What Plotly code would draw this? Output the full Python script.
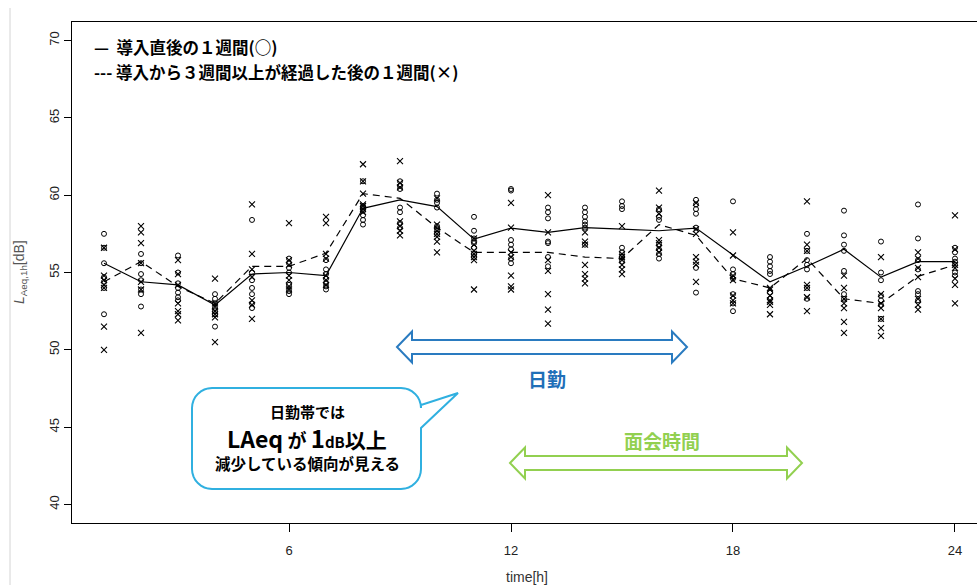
import math
import plotly.graph_objects as go

# ---------------- data ----------------
hours = list(range(1, 25))

# hourly LAeq of each day, first week after introduction (circles)
circle_vals = [
    [57.5, 56.6, 55.6, 54.7, 54.4, 54.0, 52.3],
    [56.2, 55.6, 54.9, 54.5, 53.9, 53.6, 52.8],
    [56.1, 55.0, 54.3, 54.0, 53.7, 53.4, 53.2],
    [53.6, 53.3, 53.0, 52.7, 52.5, 52.3, 51.5],
    [58.4, 55.0, 54.5, 54.0, 53.6, 53.0, 52.7],
    [55.9, 55.6, 55.3, 55.0, 54.2, 53.8, 53.6],
    [55.8, 55.2, 54.9, 54.6, 54.3, 54.1, 53.9],
    [60.9, 59.3, 59.0, 58.7, 58.4, 58.1, 59.2],
    [60.9, 60.6, 60.4, 59.2, 58.9, 58.2, 57.9],
    [60.1, 59.7, 59.5, 59.2, 58.0, 57.5, 57.8],
    [58.6, 57.7, 57.2, 56.9, 56.6, 56.2, 56.0],
    [60.4, 60.3, 57.1, 56.8, 56.5, 55.9, 55.6],
    [59.2, 58.9, 58.5, 57.0, 56.9, 56.0, 55.4],
    [59.2, 58.9, 58.6, 58.3, 58.1, 57.9, 56.8],
    [59.6, 59.3, 59.1, 56.6, 56.3, 56.0, 55.7],
    [59.1, 58.6, 58.4, 56.8, 56.5, 56.2, 55.9],
    [59.7, 59.4, 59.1, 58.8, 57.9, 55.3, 53.7],
    [59.6, 55.2, 54.9, 54.6, 53.6, 53.0, 52.5],
    [56.0, 55.7, 55.4, 55.1, 54.9, 53.7, 53.3],
    [57.5, 56.4, 55.8, 55.5, 55.2, 54.0, 53.3],
    [59.0, 57.4, 56.8, 56.4, 55.1, 53.6, 53.3],
    [57.0, 55.0, 54.5, 53.5, 53.2, 52.9, 52.0],
    [59.4, 57.2, 55.8, 55.2, 53.8, 53.6, 53.2],
    [56.6, 56.3, 55.9, 55.7, 55.5, 55.0, 54.8],
]

# hourly LAeq of each day, one week after 3+ weeks (crosses)
cross_vals = [
    [56.6, 54.8, 54.5, 54.2, 54.0, 51.5, 50.0],
    [58.0, 57.6, 56.9, 55.6, 54.4, 53.9, 51.1],
    [55.8, 54.9, 54.2, 53.0, 52.5, 52.3, 51.9],
    [54.6, 53.0, 52.8, 52.5, 52.3, 52.1, 50.5],
    [59.4, 56.2, 55.2, 54.7, 53.2, 52.9, 52.0],
    [58.2, 55.8, 55.5, 54.8, 54.5, 54.1, 53.9],
    [58.6, 58.2, 56.2, 55.9, 54.8, 54.5, 54.2],
    [62.0, 60.9, 60.1, 59.4, 59.3, 59.1, 58.9],
    [62.2, 60.8, 60.5, 58.3, 58.0, 57.7, 57.4],
    [59.8, 58.1, 57.7, 57.5, 57.3, 57.0, 56.3],
    [57.2, 56.8, 56.4, 56.2, 56.0, 55.8, 53.9],
    [59.5, 57.9, 56.3, 56.0, 54.8, 54.1, 53.9],
    [60.0, 57.6, 55.8, 55.1, 53.6, 52.6, 51.7],
    [57.6, 57.0, 56.8, 55.5, 54.9, 54.6, 54.3],
    [58.0, 56.2, 56.0, 55.8, 55.5, 55.2, 54.9],
    [60.3, 59.2, 58.8, 57.1, 56.9, 56.6, 56.3],
    [59.5, 57.8, 57.5, 56.0, 55.7, 55.5, 54.4],
    [57.6, 56.1, 54.8, 54.5, 53.5, 53.2, 53.0],
    [54.0, 53.9, 53.5, 53.2, 53.1, 52.9, 52.3],
    [59.6, 56.8, 56.4, 54.2, 54.0, 53.4, 52.5],
    [54.8, 54.0, 53.3, 53.0, 52.7, 51.8, 51.1],
    [56.0, 53.6, 53.0, 52.7, 52.0, 51.4, 50.9],
    [56.3, 55.9, 55.3, 54.7, 53.3, 52.9, 52.6],
    [58.7, 56.5, 55.5, 55.3, 54.6, 54.2, 53.0],
]

# weekly energy-average lines
solid_line = [55.6, 54.4, 54.2, 52.9, 54.9, 55.0, 54.8, 59.15, 59.7, 59.26,
              57.16, 57.87, 57.6, 57.9, 57.8, 57.7, 57.87, 56.15, 54.4, 55.4,
              56.5, 54.7, 55.7, 55.7]
dashed_line = [54.4, 55.7, 54.1, 53.0, 55.4, 55.4, 56.25, 60.1, 59.8, 57.9,
               56.3, 56.3, 56.3, 56.0, 55.9, 58.1, 57.4, 54.6, 54.0, 55.9,
               53.3, 53.0, 54.75, 55.5]

x_ticks = [6, 12, 18, 24]
y_ticks = [40, 45, 50, 55, 60, 65, 70]

# ---------------- layout geometry ----------------
W, H = 977, 585
ML, MT, MB, MR = 72, 22, 62, 0
X_RANGE = [0.135, 24.595]
Y_RANGE = [38.8, 71.2]
PW = W - ML - MR
PH = H - MT - MB


def X(px):
    return X_RANGE[0] + (px - ML) / PW * (X_RANGE[1] - X_RANGE[0])


def Y(py):
    return Y_RANGE[1] - (py - MT) / PH * (Y_RANGE[1] - Y_RANGE[0])


def path_from_px(points, close=True):
    s = "M " + " L ".join(f"{X(a):.4f},{Y(b):.4f}" for a, b in points)
    return s + (" Z" if close else "")


def double_arrow(x0, x1, yc, shaft_h, head_h, head_len):
    pts = [
        (x0, yc),
        (x0 + head_len, yc - head_h),
        (x0 + head_len, yc - shaft_h),
        (x1 - head_len, yc - shaft_h),
        (x1 - head_len, yc - head_h),
        (x1, yc),
        (x1 - head_len, yc + head_h),
        (x1 - head_len, yc + shaft_h),
        (x0 + head_len, yc + shaft_h),
        (x0 + head_len, yc + head_h),
    ]
    return path_from_px(pts)


def callout_path(l, r, t, b, rad, tail):
    # rounded box with a pointer on the right side
    pts = []

    def arc(cx, cy, a0, a1, n=8):
        for i in range(n + 1):
            a = math.radians(a0 + (a1 - a0) * i / n)
            pts.append((cx + rad * math.cos(a), cy + rad * math.sin(a)))

    arc(l + rad, t + rad, 180, 270)
    arc(r - rad, t + rad, 270, 360)
    ty0, tip, ty1 = tail
    pts.append((r, ty0))
    pts.append(tip)
    pts.append((r, ty1))
    arc(r - rad, b - rad, 0, 90)
    arc(l + rad, b - rad, 90, 180)
    return path_from_px(pts)


fig = go.Figure()

cx, cy = [], []
for h, vals in zip(hours, circle_vals):
    cx += [h] * len(vals)
    cy += vals
xx, xy = [], []
for h, vals in zip(hours, cross_vals):
    xx += [h] * len(vals)
    xy += vals

fig.add_trace(go.Scatter(
    x=cx, y=cy, mode="markers",
    marker=dict(symbol="circle-open", size=5, color="black", line=dict(width=1)),
    showlegend=False, hoverinfo="skip"))
fig.add_trace(go.Scatter(
    x=xx, y=xy, mode="markers",
    marker=dict(symbol="x-thin-open", size=6, color="black", line=dict(width=1.1)),
    showlegend=False, hoverinfo="skip"))
fig.add_trace(go.Scatter(
    x=hours, y=solid_line, mode="lines",
    line=dict(color="black", width=1.2),
    showlegend=False, hoverinfo="skip"))
fig.add_trace(go.Scatter(
    x=hours, y=dashed_line, mode="lines",
    line=dict(color="black", width=1.2, dash="7px,5px"),
    showlegend=False, hoverinfo="skip"))

TICK_FONT = dict(family="Liberation Sans Narrow, Arial Narrow, Liberation Sans, sans-serif",
                 size=13, color="#222")
JP = "Noto Sans CJK JP"

shapes = []
# thin border at the far left
shapes.append(dict(type="line", xref="paper", yref="paper",
                   x0=(10 - ML) / PW, x1=(10 - ML) / PW,
                   y0=-(H - MT - PH) / PH, y1=(PH + MT - 8) / PH,
                   line=dict(color="#d4d4d4", width=1)))
# blue double arrow (day shift)
shapes.append(dict(type="path", xref="x", yref="y",
                   path=double_arrow(397, 687, 347, 7, 15.5, 15),
                   line=dict(color="#2a7bc0", width=2), fillcolor="white"))
# green double arrow (visiting hours)
shapes.append(dict(type="path", xref="x", yref="y",
                   path=double_arrow(510, 802, 463, 7, 15.5, 15),
                   line=dict(color="#92d050", width=2), fillcolor="white"))
# speech bubble
shapes.append(dict(type="path", xref="x", yref="y",
                   path=callout_path(192, 421, 388, 489, 20, (405, (458, 393), 428)),
                   line=dict(color="#30b0e0", width=2), fillcolor="white"))

annotations = [
    dict(xref="x", yref="y", x=X(92), y=Y(47), xanchor="left", yanchor="middle",
         text="<b>—  導入直後の１週間(○)</b>", showarrow=False,
         font=dict(family=JP, size=16.5, color="black")),
    dict(xref="x", yref="y", x=X(92), y=Y(72), xanchor="left", yanchor="middle",
         text="<b>--- 導入から３週間以上が経過した後の１週間(×)</b>", showarrow=False,
         font=dict(family=JP, size=16.5, color="black")),
    dict(xref="x", yref="y", x=X(547), y=Y(378), xanchor="center", yanchor="middle",
         text="<b>日勤</b>", showarrow=False,
         font=dict(family=JP, size=19, color="#1f6fb8")),
    dict(xref="x", yref="y", x=X(662), y=Y(440), xanchor="center", yanchor="middle",
         text="<b>面会時間</b>", showarrow=False,
         font=dict(family=JP, size=19, color="#92d050")),
    dict(xref="x", yref="y", x=X(307), y=Y(411), xanchor="center", yanchor="middle",
         text="<b>日勤帯では</b>", showarrow=False,
         font=dict(family=JP, size=15, color="black")),
    dict(xref="x", yref="y", x=X(307), y=Y(437), xanchor="center", yanchor="middle",
         text=("<b><span style='font-size:23px'>LAeq</span> "
               "<span style='font-size:19px'>が</span> "
               "<span style='font-size:24px'>1</span>"
               "<span style='font-size:15px'>dB</span>"
               "<span style='font-size:21px'>以上</span></b>"),
         showarrow=False, font=dict(family=JP, size=19, color="black")),
    dict(xref="x", yref="y", x=X(307), y=Y(463), xanchor="center", yanchor="middle",
         text="<b>減少している傾向が見える</b>", showarrow=False,
         font=dict(family=JP, size=15.5, color="black")),
    # axis titles
    dict(xref="paper", yref="paper", x=(20 - ML) / PW, y=(MT + PH - 272) / PH,
         xanchor="center", yanchor="middle", textangle=-90,
         text="<i>L</i><sub>Aeq,1h</sub>[dB]", showarrow=False,
         font=dict(family="Liberation Sans Narrow, Liberation Sans, sans-serif",
                   size=14, color="#555")),
    dict(xref="paper", yref="paper", x=(527 - ML) / PW, y=-(577 - MT - PH) / PH,
         xanchor="center", yanchor="middle",
         text="time[h]", showarrow=False,
         font=dict(family="Liberation Sans Narrow, Liberation Sans, sans-serif",
                   size=14, color="#333")),
]

fig.update_layout(
    width=W, height=H,
    margin=dict(l=ML, r=MR, t=MT, b=MB),
    paper_bgcolor="white", plot_bgcolor="white",
    showlegend=False,
    shapes=shapes,
    annotations=annotations,
    xaxis=dict(range=X_RANGE, tickvals=x_ticks, ticktext=[str(v) for v in x_ticks],
               ticks="outside", ticklen=8, tickcolor="black", tickwidth=1,
               ticklabelstandoff=7,
               showline=True, linecolor="black", linewidth=1.3, mirror=True,
               showgrid=False, zeroline=False, tickfont=TICK_FONT),
    yaxis=dict(range=Y_RANGE, tickvals=y_ticks, ticktext=[str(v) for v in y_ticks],
               ticks="outside", ticklen=7, tickcolor="black", tickwidth=1,
               tickangle=-90,
               showline=True, linecolor="black", linewidth=1.3, mirror=False,
               showgrid=False, zeroline=False, tickfont=TICK_FONT),
)

fig.write_html("out.html")
